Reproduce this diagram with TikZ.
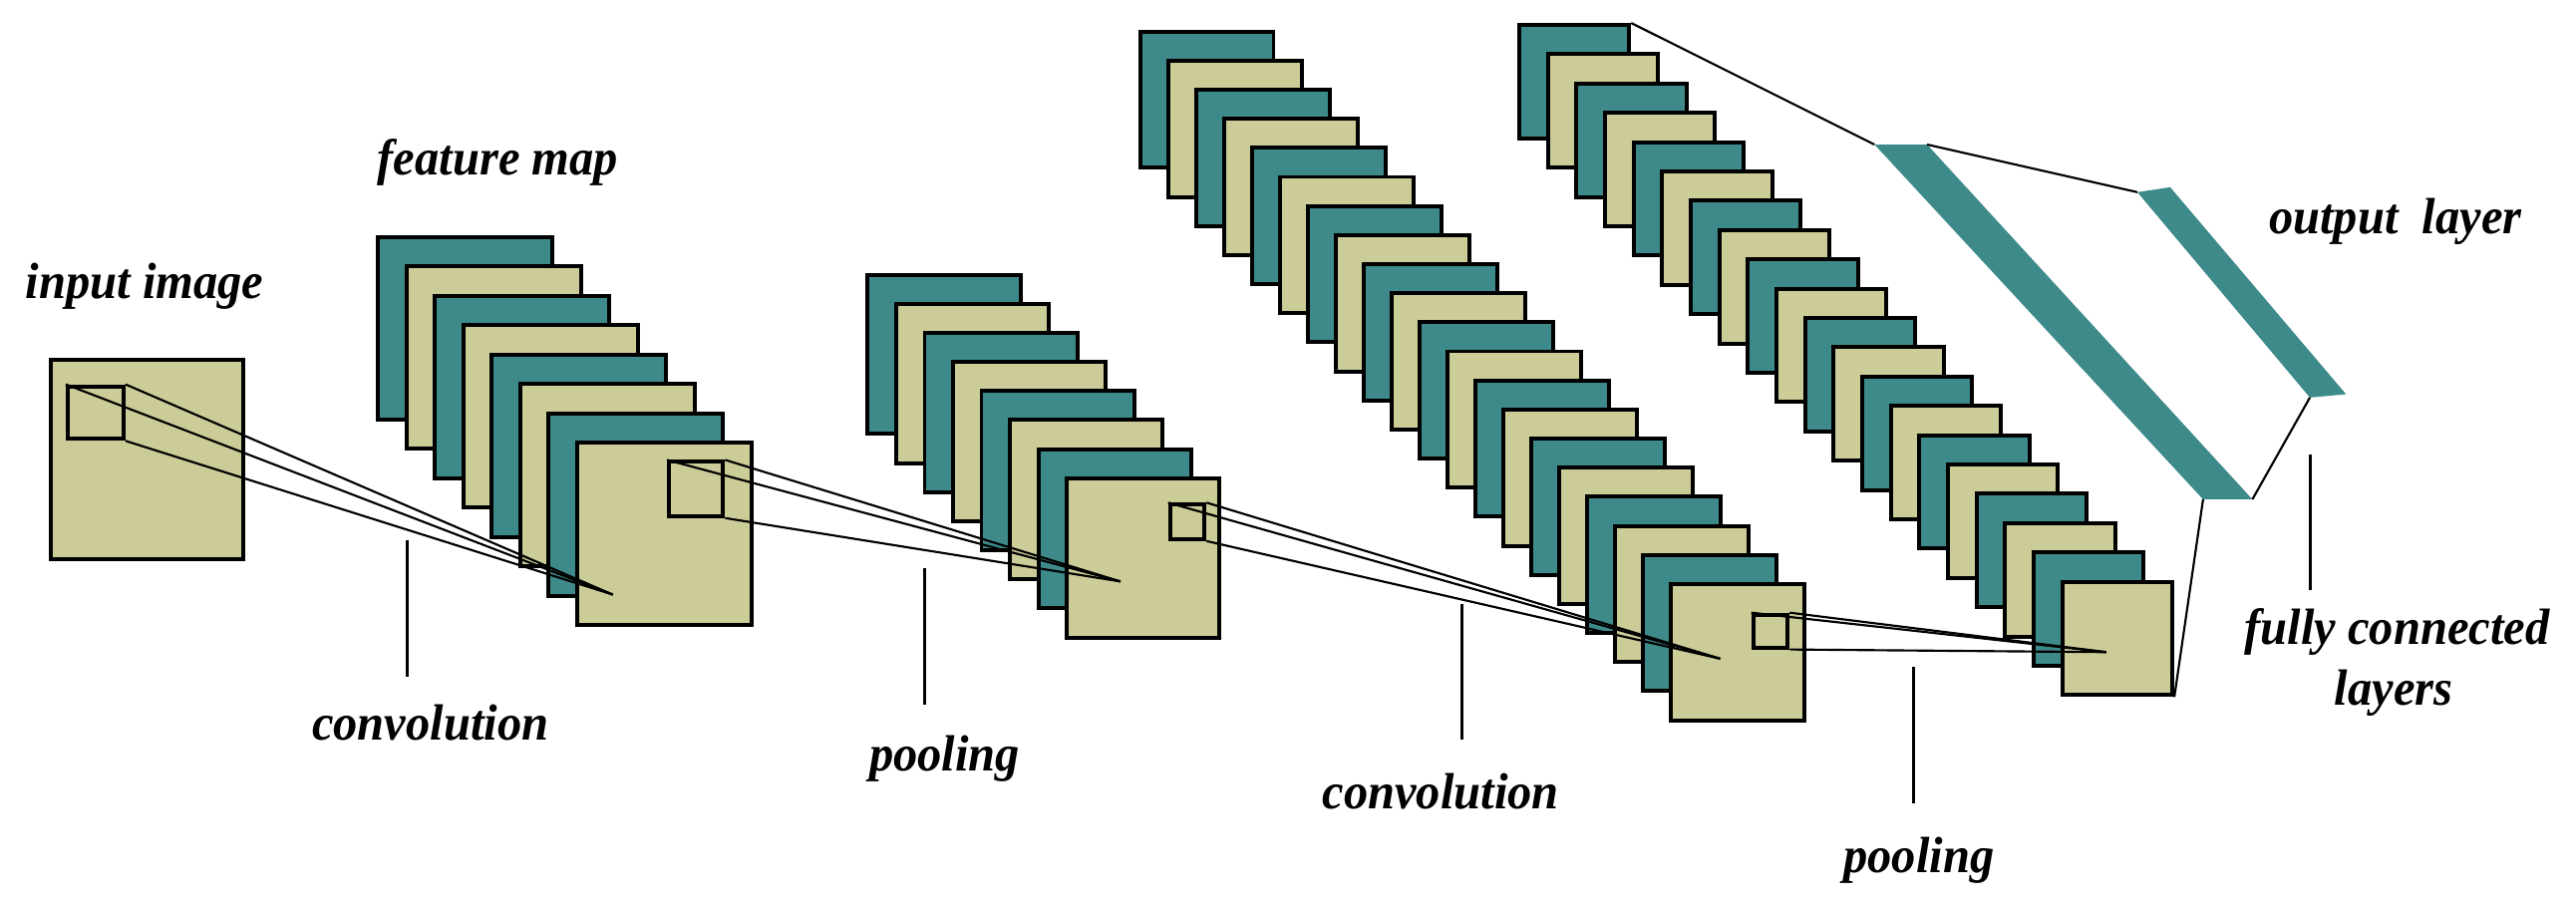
\documentclass[tikz,border=0pt]{standalone}
\usepackage{fontspec}
\setmainfont{Liberation Serif}
\begin{document}
\definecolor{tealc}{HTML}{3E8A8A}
\definecolor{beigec}{HTML}{CCCC99}
\begin{tikzpicture}[x=1pt,y=-1pt,
  map/.style={draw=black,line width=2.4pt,rectangle,inner sep=0pt,anchor=north west},
  win/.style={draw=black,line width=2.4pt,rectangle,inner sep=0pt,anchor=north west,fill=none},
  con/.style={line width=1.3pt},
  tick/.style={line width=1.8pt},
  lab/.style={font=\fontsize{31}{34}\selectfont\bfseries\itshape,inner sep=0pt,xscale=0.95}]
\useasboundingbox (0,0) rectangle (1568,555);
\fill[white] (0,0) rectangle (1568,555);
\foreach \nm/\xo/\yo/\dx/\dy/\w/\h/\n in {f/229/143/17.3/17.9/106/111/7, p/527/166/17.3/17.7/93/97/7, c/693/18/17/17.7/81/83/19, q/923.5/14/17.4/17.84/67/69/19}{
  \foreach \i in {0,...,\n}{
    \pgfmathtruncatemacro\m{mod(\i,2)}
    \ifnum\m=0 \def\cc{tealc}\else\def\cc{beigec}\fi
    \node[map,fill=\cc,minimum width=\w pt,minimum height=\h pt] (\nm\i) at (\xo+\dx*\i,\yo+\dy*\i) {};
  }
}
\node[map,fill=beigec,minimum width=117pt,minimum height=121pt] (in) at (30,218) {};
\node[win,minimum width=34pt,minimum height=32pt] (w0) at (40,234) {};
\node[win,minimum width=33pt,minimum height=33pt] (w1) at (406,280) {};
\node[win,minimum width=21pt,minimum height=21pt] (w2) at (711,306) {};
\node[win,minimum width=21pt,minimum height=20pt] (w3) at (1066,373) {};
\coordinate (t1) at (373,362);
\coordinate (t2) at (682,354);
\coordinate (t3) at (1047,401);
\coordinate (t4) at (1282,397);
\foreach \a/\b in {w0/t1,w1/t2,w2/t3,w3/t4}{
  \draw[con] (\a.north west) -- (\b);
  \draw[con] (\a.north east) -- (\b);
  \draw[con] (\a.south east) -- (\b);
}
\coordinate (b1a) at (1141,88); \coordinate (b1b) at (1173,88);
\coordinate (b1c) at (1371,304); \coordinate (b1d) at (1341,304);
\coordinate (b2a) at (1301,117); \coordinate (b2b) at (1321,114);
\coordinate (b2c) at (1428,240); \coordinate (b2d) at (1406,242);
\fill[tealc] (b1a) -- (b1b) -- (b1c) -- (b1d) -- cycle;
\fill[tealc] (b2a) -- (b2b) -- (b2c) -- (b2d) -- cycle;
\draw[con] (q0.north east) -- (b1a);
\draw[con] (b1b) -- (b2a);
\draw[con] (b2d) -- (b1c);
\draw[con] (b1d) -- (q19.south east);
\coordinate (k1a) at (248,329); \coordinate (k1b) at (248,412);
\coordinate (k2a) at (563,346); \coordinate (k2b) at (563,429);
\coordinate (k3a) at (890,368); \coordinate (k3b) at (890,450);
\coordinate (k4a) at (1165,406); \coordinate (k4b) at (1165,489);
\coordinate (k5a) at (1406,277); \coordinate (k5b) at (1406,359);
\foreach \k in {1,...,5}{\draw[tick] (k\k a) -- (k\k b);}
\node[lab] (l1) at (88,174) {input image};
\node[lab] (l2) at (303,99) {feature map};
\node[lab] (l3) at (262,440) {convolution};
\node[lab] (l4) at (575,462) {pooling};
\node[lab] (l5) at (877,482) {convolution};
\node[lab] (l6) at (1168,524) {pooling};
\node[lab] (l7) at (1458,135) {output\ \ layer};
\node[lab] (l8) at (1459,385) {fully connected};
\node[lab] (l9) at (1457,422) {layers};
\end{tikzpicture}
\end{document}
